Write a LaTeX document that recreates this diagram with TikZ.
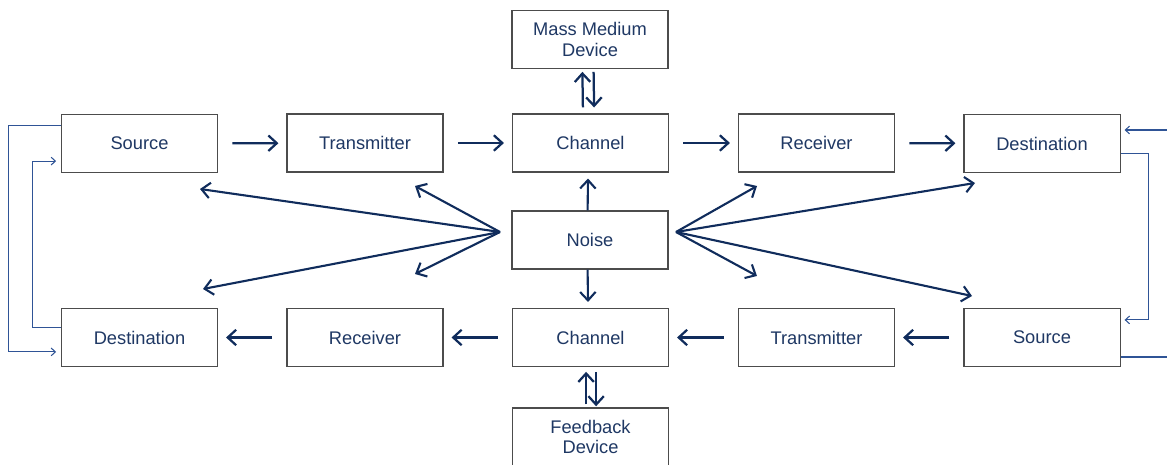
\documentclass[tikz,border=0pt]{standalone}
\usepackage{fontspec}
\setmainfont{Liberation Sans}
\usetikzlibrary{arrows.meta}
\definecolor{navytext}{HTML}{1F3864}
\definecolor{navyline}{HTML}{102C5C}
\definecolor{fbblue}{HTML}{2F5496}
\begin{document}
\begin{tikzpicture}[x=0.025cm,y=-0.025cm,
    block/.style={draw=black!70,line width=0.75pt,fill=white,minimum width=3.9cm,minimum height=1.45cm,
      align=center,font=\fontsize{13}{14.5}\selectfont,text=navytext,inner sep=2pt},
    flow/.style={draw=navyline,line width=1.6pt,-{Straight Barb[length=6pt,width=11pt,line width=1.6pt]}},
    noisy/.style={draw=navyline,line width=1.5pt,-{Straight Barb[length=6pt,width=11pt,line width=1.5pt]}},
    fb/.style={draw=fbblue,line width=0.75pt},
    fbarrow/.style={fb,-{Straight Barb[length=3pt,width=5.5pt,line width=0.75pt]}}]
    \useasboundingbox (0,0) rectangle (1167,465);
    % top row
    \node[block] (src1) at (139.5,143.5) {Source};
    \node[block] (tx1) at (365,143) {Transmitter};
    \node[block] (ch1) at (590.5,143) {Channel};
    \node[block] (rx1) at (816.5,143) {Receiver};
    \node[block] (dst1) at (1042,143.5) {Destination};
    % middle column
    \node[block] (mass) at (590,39.5) {Mass Medium\\Device};
    \node[block] (noise) at (590,240) {Noise};
    \node[block] (fbdev) at (590.5,437) {Feedback\\Device};
    % bottom row
    \node[block] (dst2) at (139.5,337.5) {Destination};
    \node[block] (rx2) at (365,337.5) {Receiver};
    \node[block] (ch2) at (590.5,337.5) {Channel};
    \node[block] (tx2) at (816.5,337.5) {Transmitter};
    \node[block] (src2) at (1042,337.5) {Source};

    \foreach \a/\b in {src1/tx1,tx1/ch1,ch1/rx1,rx1/dst1,src2/tx2,tx2/ch2,ch2/rx2,rx2/dst2}
      \draw[flow,shorten <=0.36cm,shorten >=0.2cm] (\a) -- (\b);

    % mass medium and feedback device
    \draw[flow] ([xshift=-0.19cm,yshift=0.15cm]ch1.north) -- ([xshift=-0.19cm,yshift=-0.07cm]mass.south);
    \draw[flow] ([xshift=0.09cm,yshift=-0.07cm]mass.south) -- ([xshift=0.09cm,yshift=0.15cm]ch1.north);
    \draw[flow] ([xshift=-0.11cm,yshift=0.08cm]fbdev.north) -- ([xshift=-0.11cm,yshift=-0.12cm]ch2.south);
    \draw[flow] ([xshift=0.14cm,yshift=-0.12cm]ch2.south) -- ([xshift=0.14cm,yshift=0.03cm]fbdev.north);

    % noise
    \coordinate (nl) at (500,232);
    \coordinate (nr) at (676,232);
    \coordinate (t1) at (200,189);
    \coordinate (t2) at (415,186);
    \coordinate (t3) at (415,274);
    \coordinate (t4) at (203,289);
    \coordinate (t5) at (757,186);
    \coordinate (t6) at (975,183);
    \coordinate (t7) at (757,276);
    \coordinate (t8) at (972,296);
    \foreach \t in {t1,t2,t3,t4}
      \draw[noisy] (nl) -- (\t);
    \foreach \t in {t5,t6,t7,t8}
      \draw[noisy] (nr) -- (\t);
    \draw[noisy,shorten >=0.15cm] ([xshift=-0.06cm]noise.north) -- ([xshift=-0.06cm]ch1.south);
    \draw[noisy,shorten >=0.15cm] ([xshift=-0.06cm]noise.south) -- ([xshift=-0.06cm]ch2.north);

    % feedback loops
    \draw[fbarrow,shorten >=0.12cm]
      ([yshift=0.46cm]src1.west) -- ++(-1.3cm,0) |- ([yshift=-0.36cm]dst2.west);
    \draw[fbarrow,shorten >=0.12cm]
      ([yshift=0.24cm]dst2.west) -- ++(-0.7cm,0) |- ([yshift=-0.44cm]src1.west);
    \coordinate (rin) at (1167,130);
    \coordinate (rout) at (1167,357);
    \draw[fbarrow,shorten >=0.1cm] (rin) -- (rin -| dst1.east);
    \draw[fbarrow,shorten >=0.1cm]
      ([yshift=-0.24cm]dst1.east) -- ++(0.7cm,0) |- ([yshift=0.44cm]src2.east);
    \draw[fb] (rout -| src2.east) -- (rout);
\end{tikzpicture}
\end{document}
